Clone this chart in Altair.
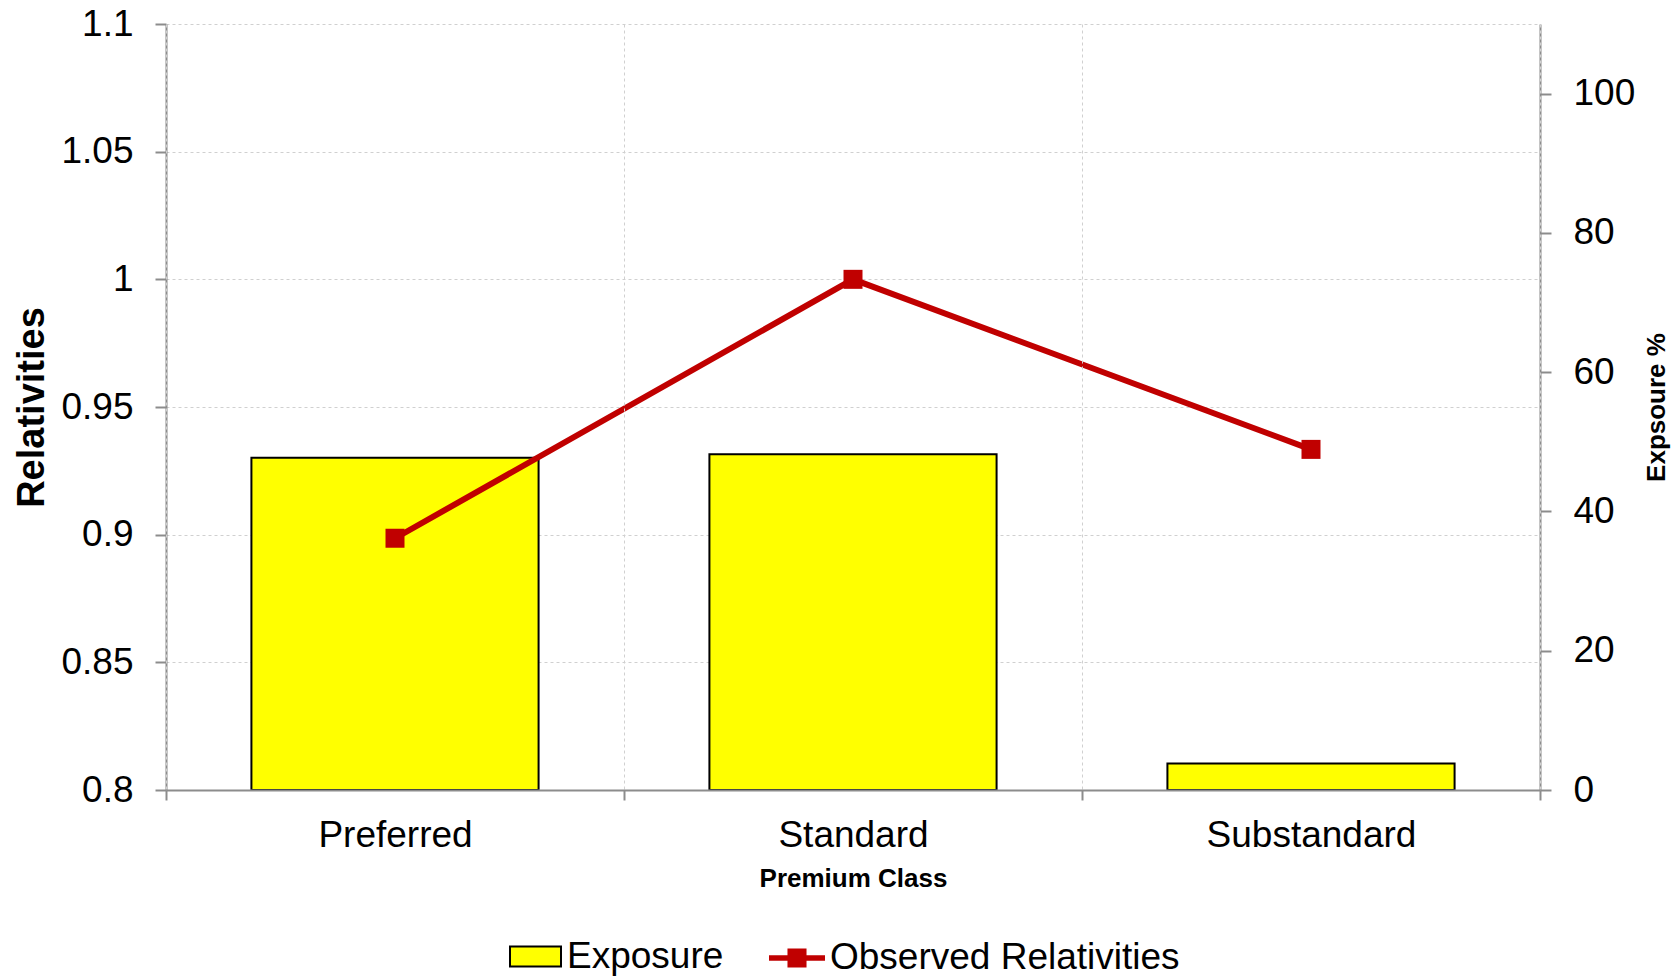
import altair as alt
import pandas as pd

# Premium classes and their exposure / observed relativities
classes = ["Preferred", "Standard", "Substandard"]
exposure_pct = [47.7, 48.2, 3.8]
observed_rel = [0.8986, 1.0, 0.9334]

rel_ticks = [0.8, 0.85, 0.9, 0.95, 1.0, 1.05, 1.1]
exp_ticks = [0, 20, 40, 60, 80, 100]

df = pd.DataFrame({
    "cls": classes,
    "exposure": exposure_pct,
    "rel": observed_rel,
    "bar_series": ["Exposure"] * 3,
    "line_series": ["Observed Relativities"] * 3,
})

FONT = "Liberation Sans"
AXIS_GRAY = "#8c8c8c"
GRID_GRAY = "#d0d0d0"
YELLOW = "#ffff00"
RED = "#c00000"
LABEL_SIZE = 37

x_enc = alt.X(
    "cls:N",
    sort=classes,
    title="Premium Class",
    scale=alt.Scale(paddingInner=0, paddingOuter=0),
    axis=alt.Axis(
        tickBand="extent",
        labelAngle=0,
        labelFontSize=LABEL_SIZE,
        labelPadding=17,
        labelLimit=0,
        labelColor="black",
        tickSize=10,
        tickColor=AXIS_GRAY,
        tickWidth=2,
        domainColor=AXIS_GRAY,
        domainWidth=2,
        grid=True,
        gridColor=GRID_GRAY,
        gridDash=[3, 3],
        gridWidth=1,
        titleFontSize=26,
        titleFontWeight="bold",
        titlePadding=12,
        zindex=1,
    ),
)

bars = alt.Chart(df).mark_bar(
    width=alt.RelativeBandSize(0.627), stroke="black", strokeWidth=2
).encode(
    x=x_enc,
    y=alt.Y(
        "exposure:Q",
        scale=alt.Scale(domain=[0, 110], nice=False),
        axis=alt.Axis(
            orient="right",
            values=exp_ticks,
            title="Expsoure %",
            titleAngle=270,
            titleBaseline="top",
            titleFontSize=26,
            titleFontWeight="bold",
            titlePadding=9,
            labelFontSize=LABEL_SIZE,
            labelPadding=22,
            labelColor="black",
            tickSize=11,
            tickColor=AXIS_GRAY,
            tickWidth=2,
            domainColor=AXIS_GRAY,
            domainWidth=2,
            grid=False,
        ),
    ),
    fill=alt.Fill(
        "bar_series:N",
        scale=alt.Scale(domain=["Exposure"], range=[YELLOW]),
        legend=alt.Legend(
            title=None,
            orient="none",
            legendX=343,
            legendY=906,
            symbolType="M-1,-0.39H1V0.39H-1Z",
            symbolSize=2601,
            symbolStrokeColor="black",
            symbolStrokeWidth=2,
            labelFontSize=LABEL_SIZE,
            labelOffset=5,
            labelLimit=0,
            labelColor="black",
        ),
    ),
)

rel_y = alt.Y(
    "rel:Q",
    scale=alt.Scale(domain=[0.8, 1.1], nice=False, zero=False),
    axis=alt.Axis(
        orient="left",
        values=rel_ticks,
        format="~g",
        title="Relativities",
        titleFontSize=38,
        titleFontWeight="bold",
        titlePadding=9,
        labelFontSize=LABEL_SIZE,
        labelPadding=22,
        labelColor="black",
        tickSize=11,
        tickColor=AXIS_GRAY,
        tickWidth=2,
        domainColor=AXIS_GRAY,
        domainWidth=2,
        grid=True,
        gridColor=GRID_GRAY,
        gridDash=[3, 3],
        gridWidth=1,
    ),
)

line = alt.Chart(df).mark_line(color=RED, strokeWidth=6).encode(x=x_enc, y=rel_y)

points = alt.Chart(df).mark_square(size=361, opacity=1).encode(
    x=x_enc,
    y=rel_y,
    color=alt.Color(
        "line_series:N",
        scale=alt.Scale(domain=["Observed Relativities"], range=[RED]),
        legend=alt.Legend(
            title=None,
            orient="none",
            legendX=603,
            legendY=906,
            symbolType="M-1,-0.1H1V0.1H-1Z M-0.34,-0.34H0.34V0.34H-0.34Z",
            symbolSize=3136,
            symbolStrokeWidth=0,
            symbolOpacity=1,
            labelFontSize=LABEL_SIZE,
            labelOffset=5,
            labelLimit=0,
            labelColor="black",
        ),
    ),
)

relativities = alt.layer(line, points)

chart = (
    alt.layer(bars, relativities)
    .resolve_scale(y="independent", fill="independent", color="independent")
    .properties(
        width=1374,
        height=766,
        autosize=alt.AutoSizeParams(type="none"),
        padding={"left": 166, "top": 24, "right": 139, "bottom": 188},
    )
    .configure(font=FONT)
    .configure_view(stroke=None)
    .configure_axis(labelFont=FONT, titleFont=FONT, titleColor="black")
    .configure_legend(labelFont=FONT)
)

chart.save("out.html", embed_options={"renderer": "svg", "actions": False})
